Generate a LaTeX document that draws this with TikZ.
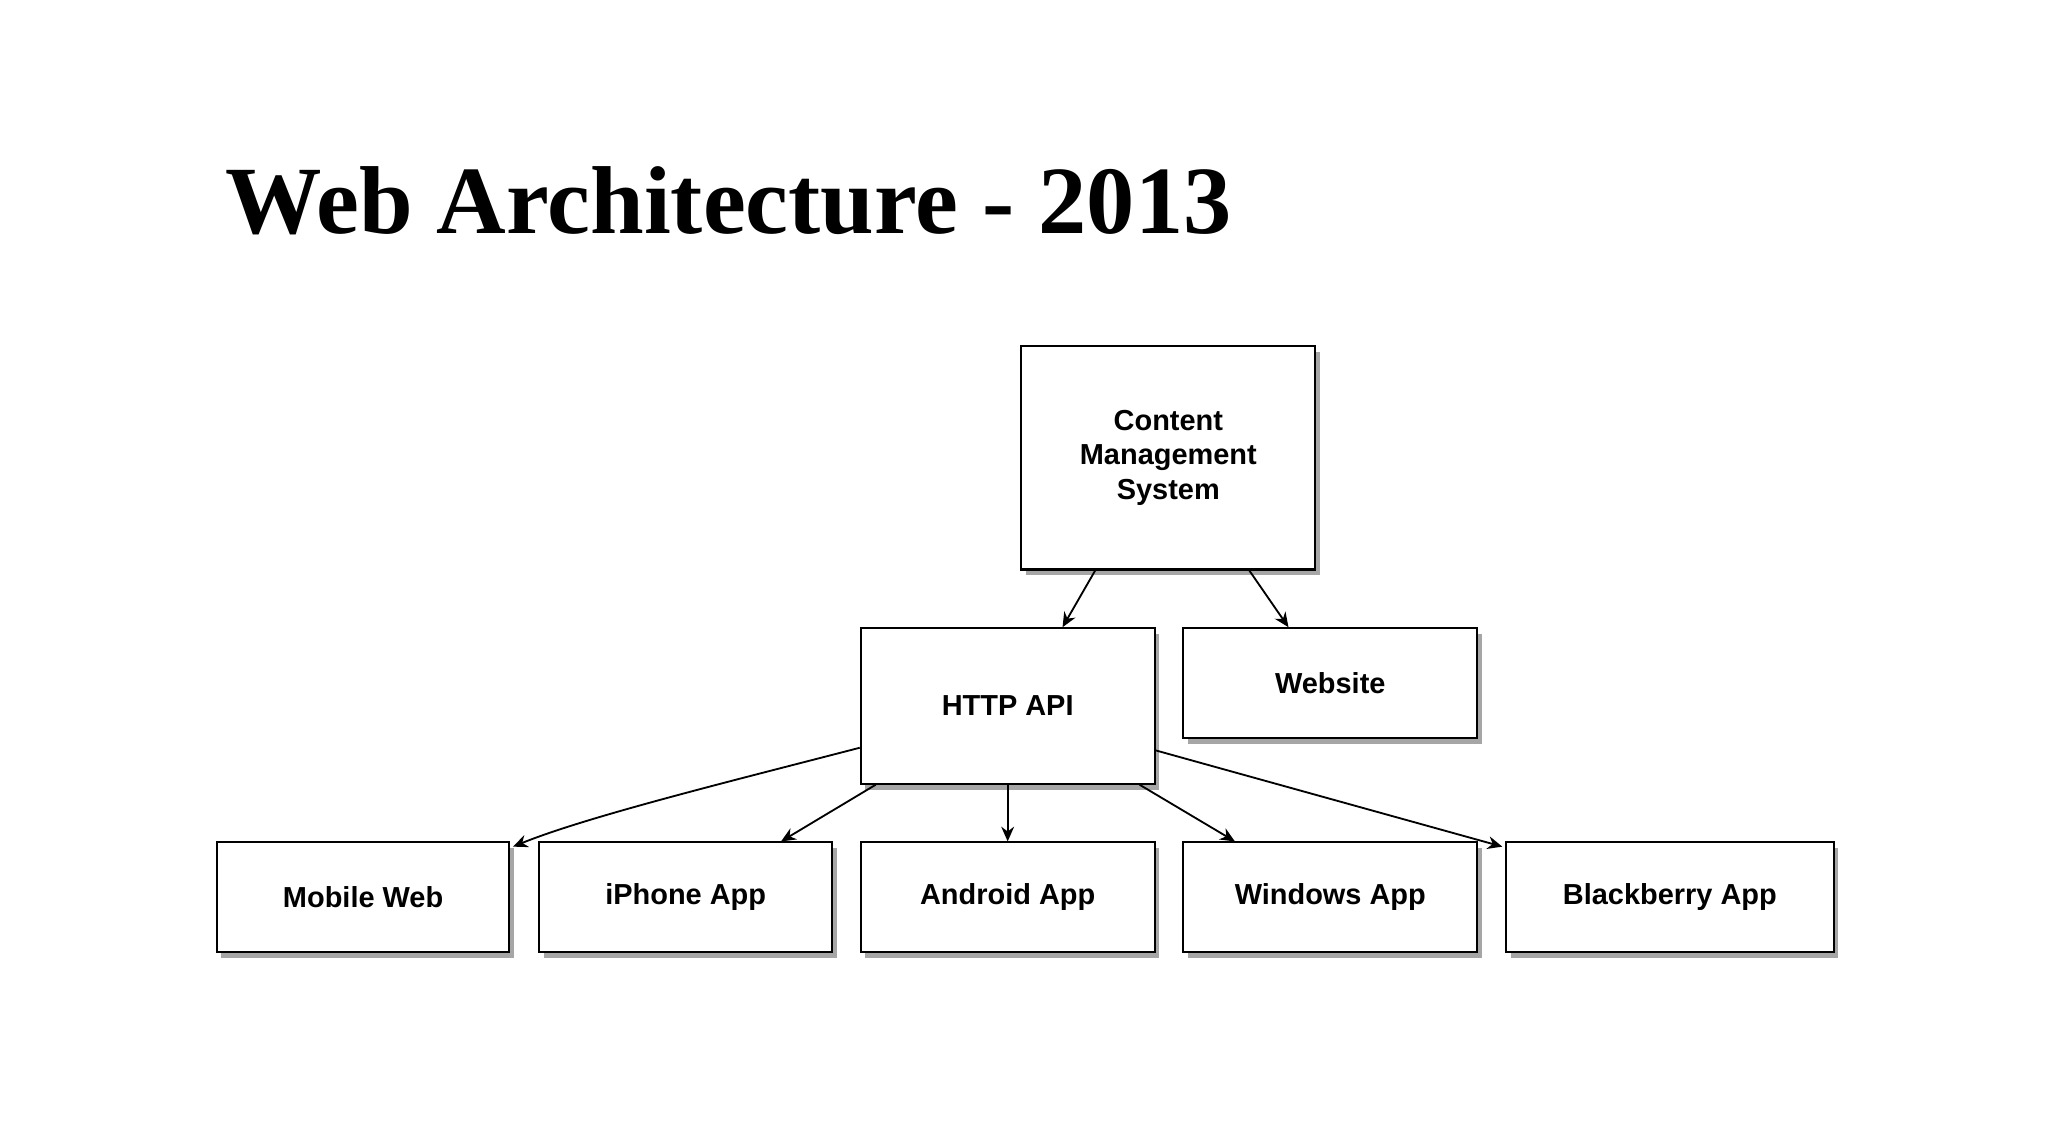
\documentclass[tikz,border=0pt]{standalone}
\usepackage{fontspec}
\setmainfont{Liberation Serif}
\newfontfamily\boxfont{Liberation Sans}
\usetikzlibrary{shadows,calc,arrows.meta}
\begin{document}
\begin{tikzpicture}[x=0.01cm,y=-0.01cm,
  box/.style={draw,line width=0.45pt,fill=white,inner sep=0pt,align=center,
    font=\boxfont\fontsize{6.3}{7.6}\selectfont\bfseries,
    drop shadow={shadow xshift=0.035cm,shadow yshift=-0.045cm,fill=black,opacity=0.35}},
  arr/.style={-{Stealth[length=3.2pt,width=2.8pt]},line width=0.4pt}]
\useasboundingbox (0,0) rectangle (1568,872);
\node[anchor=west,font=\fontsize{21}{24}\selectfont\bfseries] (title) at (160,154) {Web Architecture - 2013};
\newcommand\bx[6]{\node[box,minimum width=#3*0.01cm,minimum height=#4*0.01cm] (#5) at (#1,#2) {#6};}
\bx{894.5}{350.5}{225}{171}{cms}{Content\\Management\\System}
\bx{771.5}{540.5}{225}{119}{api}{HTTP API}
\bx{1018.5}{523}{225}{84}{web}{Website}
\bx{278}{687}{224}{84}{mw}{Mobile Web}
\bx{525}{687}{224}{84}{iph}{iPhone App}
\bx{771.5}{687}{225}{84}{and}{Android App}
\bx{1018.5}{687}{225}{84}{win}{Windows App}
\bx{1278.5}{687}{251}{84}{bb}{Blackberry App}
\draw[arr] ($(cms.south)+(-56,0)$) -- ($(api.north)+(42,0)$);
\draw[arr] ($(cms.south)+(62,0)$) -- ($(web.north)+(-32,0)$);
\draw[arr] ($(api.west)+(0,32)$) .. controls (560,598) and (450,625) .. ($(mw.north east)+(2,4)$);
\draw[arr] ($(api.south)+(-101,0)$) -- ($(iph.north)+(73,0)$);
\draw[arr] (api.south) -- (and.north);
\draw[arr] ($(api.south)+(101,0)$) -- ($(win.north)+(-73,0)$);
\draw[arr] ($(api.east)+(0,34)$) -- ($(bb.north west)+(-2,4)$);
\end{tikzpicture}
\end{document}
